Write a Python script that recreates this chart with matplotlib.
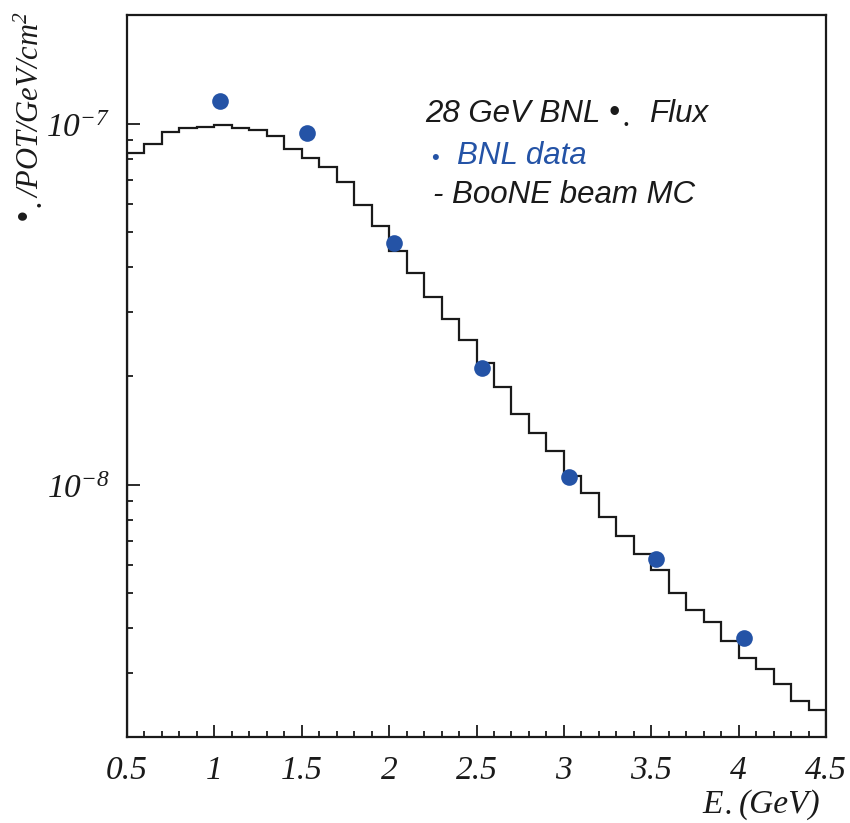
import numpy as np
import matplotlib
matplotlib.use('Agg')
import matplotlib.pyplot as plt
from matplotlib.ticker import LogLocator, MultipleLocator, NullFormatter, FixedLocator

plt.rcParams['mathtext.fontset'] = 'custom'
plt.rcParams['mathtext.rm'] = 'Liberation Serif:italic'
plt.rcParams['mathtext.it'] = 'Liberation Serif:italic'

# MC histogram, 0.1 GeV bins from 0.5 to 4.5 GeV
bin_edges = np.round(np.arange(0.5, 4.51, 0.1), 2)
mc_flux = [8.31e-8, 8.80e-8, 9.46e-8, 9.70e-8, 9.79e-8, 9.89e-8, 9.73e-8, 9.60e-8, 9.22e-8, 8.53e-8,
           8.04e-8, 7.57e-8, 6.89e-8, 5.97e-8, 5.19e-8, 4.44e-8, 3.85e-8, 3.32e-8, 2.88e-8, 2.52e-8,
           2.17e-8, 1.87e-8, 1.57e-8, 1.39e-8, 1.24e-8, 1.06e-8, 9.49e-9, 8.14e-9, 7.21e-9, 6.41e-9,
           5.80e-9, 5.00e-9, 4.50e-9, 4.16e-9, 3.68e-9, 3.32e-9, 3.09e-9, 2.81e-9, 2.51e-9, 2.38e-9]

# BNL data points
bnl_e = [1.03, 1.53, 2.03, 2.53, 3.03, 3.53, 4.03]
bnl_flux = [1.152e-7, 9.43e-8, 4.66e-8, 2.10e-8, 1.05e-8, 6.22e-9, 3.75e-9]

x_ticks = [0.5, 1, 1.5, 2, 2.5, 3, 3.5, 4, 4.5]
x_tick_labels = ['0.5', '1', '1.5', '2', '2.5', '3', '3.5', '4', '4.5']
y_ticks = [1e-8, 1e-7]
y_tick_labels = [r'$10^{-8}$', r'$10^{-7}$']

blue = '#2453a6'
ink = '#1a1a1a'
W, H = 850, 823

fig = plt.figure(figsize=(W / 100, H / 100), dpi=100)
ax = fig.add_axes([127 / W, 86 / H, 699 / W, 722 / H])

ax.stairs(mc_flux, bin_edges, color=ink, lw=1.6)
ax.plot(bnl_e, bnl_flux, 'o', color=blue, markersize=12, markeredgewidth=0)

ax.set_yscale('log')
ax.set_xlim(0.5, 4.5)
ax.set_ylim(2.0e-9, 2.0e-7)

ax.xaxis.set_major_locator(FixedLocator(x_ticks))
ax.xaxis.set_minor_locator(MultipleLocator(0.1))
ax.set_xticklabels(x_tick_labels, fontfamily='Liberation Serif', fontstyle='italic', fontsize=24)
ax.yaxis.set_major_locator(FixedLocator(y_ticks))
ax.yaxis.set_minor_locator(LogLocator(base=10, subs=np.arange(2, 10)))
ax.yaxis.set_minor_formatter(NullFormatter())
ax.set_yticklabels(y_tick_labels, fontsize=24)

ax.tick_params(which='both', direction='in', top=False, right=False, width=1.3, colors=ink)
ax.tick_params(which='major', length=9)
ax.tick_params(which='minor', length=4.5)
ax.tick_params(axis='x', pad=13)
ax.tick_params(axis='y', pad=12)
for s in ax.spines.values():
    s.set_linewidth(1.6)
    s.set_color(ink)

# legend block
sans = dict(family='Liberation Sans', style='italic', fontsize=22.5)
fig.text(425 / W, 1 - 122 / H, '28 GeV BNL', color=ink, **sans)
fig.text(609 / W, 1 - 121 / H, '\u2022', color=ink, **sans)
fig.text(624 / W, 1 - 129 / H, '\u2022', color=ink, family='Liberation Sans', fontsize=10)
fig.text(649 / W, 1 - 122 / H, 'Flux', color=ink, **sans)
fig.text(431 / W, 1 - 164 / H, '\u2022', color=blue, family='Liberation Sans', fontsize=16)
fig.text(457 / W, 1 - 164 / H, 'BNL data', color=blue, **sans)
fig.text(433 / W, 1 - 203 / H, '- BooNE beam MC', color=ink, **sans)

# axis titles
serif = dict(family='Liberation Serif', style='italic', fontsize=24, color=ink)
fig.text(702 / W, 1 - 813 / H, 'E', **serif)
fig.text(725 / W, 1 - 817 / H, '\u2022', family='Liberation Sans', fontsize=10, color=ink)
fig.text(739 / W, 1 - 813 / H, '(GeV)', **serif)

fig.text(46 / W, 1 - 198 / H, '/POT/GeV/cm$^{2}$', rotation=90, ha='right', va='bottom',
         family='Liberation Serif', style='italic', fontsize=22, color=ink)
fig.text(25 / W, 1 - 215 / H, '\u2022', rotation=90, ha='center', va='center',
         family='Liberation Sans', fontsize=22, color=ink)
fig.text(40 / W, 1 - 205 / H, '\u2022', rotation=90, ha='center', va='center',
         family='Liberation Sans', fontsize=10, color=ink)

fig.savefig('out.png', dpi=100)
